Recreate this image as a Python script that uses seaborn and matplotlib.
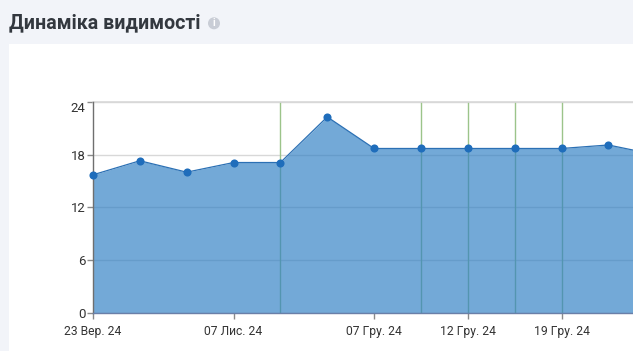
import numpy as np
import pandas as pd
import seaborn as sns
import matplotlib
matplotlib.use("Agg")
import matplotlib.pyplot as plt
from matplotlib.patches import Rectangle, Circle

title = "Динаміка видимості"
values = [15.7, 17.3, 16.0, 17.1, 17.1, 22.3, 18.7, 18.7, 18.7, 18.7, 18.7, 19.1, 18.0]
tick_idx = [0, 3, 6, 8, 10]
tick_labels = ["23 Вер. 24", "07 Лис. 24", "07 Гру. 24", "12 Гру. 24", "19 Гру. 24"]
green_idx = [4, 7, 8, 9, 10]
y_ticks = [0, 6, 12, 18, 24]

W, H = 633, 351
sns.set_theme(style="white")
plt.rcParams['font.family'] = ['Roboto', 'DejaVu Sans']

df = pd.DataFrame({"idx": np.arange(len(values)), "value": values})

fig = plt.figure(figsize=(W / 100, H / 100), dpi=100, facecolor="#f2f4f9")

# page background in pixel coords: white card and info icon
bg = fig.add_axes([0, 0, 1, 1], zorder=-1)
bg.set_xlim(0, W)
bg.set_ylim(H, 0)
bg.axis("off")
bg.add_patch(Rectangle((9, 44), W - 9, H - 44, facecolor="white", edgecolor="none"))
bg.add_patch(Circle((214, 23.3), 6, facecolor="#c9cdd6", edgecolor="none"))
bg.text(214, 23.5, "i", fontsize=7.5, fontweight="bold", color="white", ha="center", va="center")
bg.text(9, 23, title, fontsize=14.1, fontweight="bold", color="#33383f", va="center", ha="left")

ax = fig.add_axes([93 / W, 1 - 312.5 / H, (W - 93) / W, 210.5 / H])
ax.patch.set_alpha(0)
ax.set_xlim(0, (W - 93) / 46.85)
ax.set_ylim(0, 24)

ax.set_yticks(y_ticks)
ax.set_xticks(tick_idx)
ax.set_xticklabels(tick_labels)
ax.grid(axis="y", color="#d8d8d8", lw=1, zorder=1)
ax.grid(axis="x", visible=False)
for i in green_idx:
    ax.axvline(i, color="#9cc48a", lw=1, zorder=1)

ax.fill_between(df["idx"], df["value"], color="#2f7fc4", alpha=0.67, lw=0, zorder=2)
sns.lineplot(data=df, x="idx", y="value", color="#2b70b4", lw=0.9, ax=ax, zorder=3, errorbar=None)
sns.scatterplot(data=df, x="idx", y="value", color="#1f6dbb", s=34, linewidth=0, ax=ax, zorder=4, clip_on=False)
ax.set_xlabel("")
ax.set_ylabel("")

for s in ["top", "right"]:
    ax.spines[s].set_visible(False)
ax.spines["left"].set_color("#6f6f6f")
ax.spines["left"].set_linewidth(1)
ax.spines["bottom"].set_color("#6a7fa8")
ax.spines["bottom"].set_linewidth(1)
ax.axhline(24, color="#d8d8d8", lw=1.2, zorder=1, clip_on=False)

ax.tick_params(axis="both", which="major", width=1, color="#8a8a8a", labelcolor="#333333", left=True, bottom=True)
ax.tick_params(axis="x", length=4, pad=5, labelsize=8.7)
ax.tick_params(axis="y", length=4, pad=1.5, labelsize=9.5)
ax.get_yticklabels()[-1].set_va("top")

fig.savefig("out.png", dpi=100, facecolor=fig.get_facecolor())
